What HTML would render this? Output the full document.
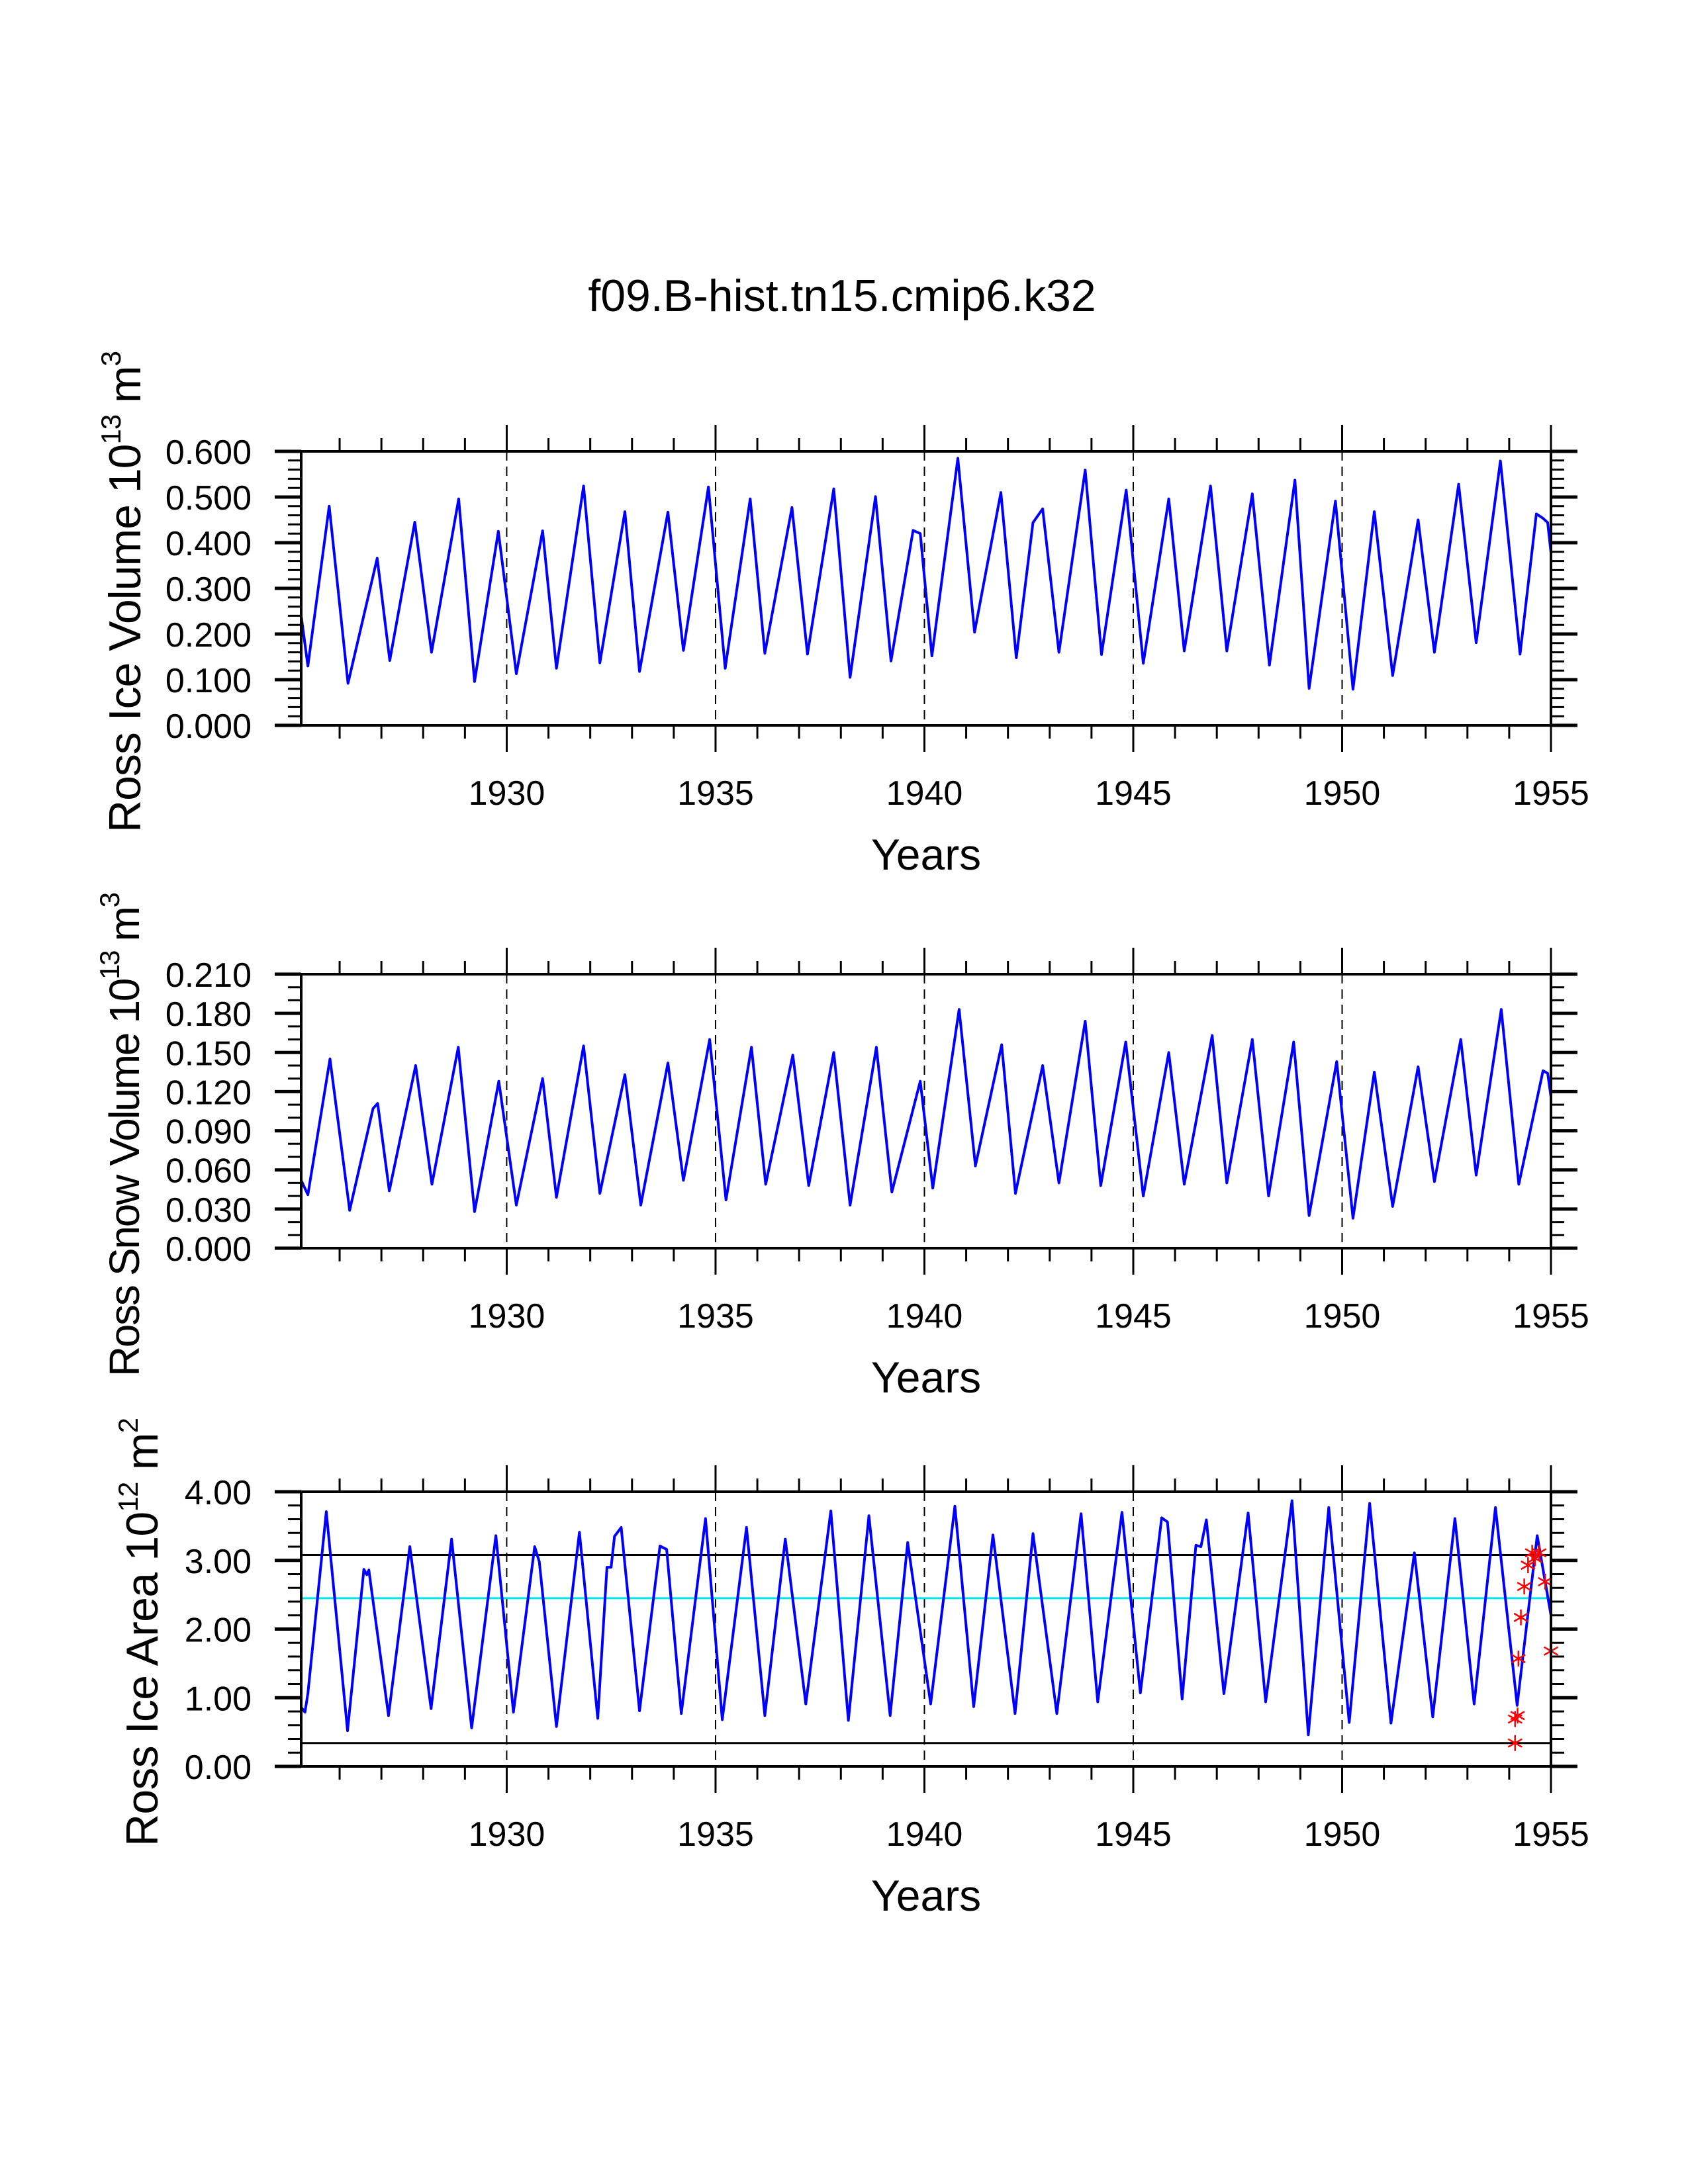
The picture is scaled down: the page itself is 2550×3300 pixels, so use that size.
<!DOCTYPE html>
<html><head><meta charset="utf-8"><style>
html,body{margin:0;padding:0;background:#fff}
svg{display:block}
text{font-family:"Liberation Sans",Arial,sans-serif;fill:#000}
</style></head>
<body>
<svg id="fig" xmlns="http://www.w3.org/2000/svg" width="2550" height="3300" viewBox="0 0 2550 3300">
<rect x="0" y="0" width="2550" height="3300" fill="#fff"/>
<text x="1272" y="470" font-size="68" text-anchor="middle">f09.B-hist.tn15.cmip6.k32</text>
</svg>
<script>
// ---- data ----
const iceVolT = [1925.08,1925.24,1925.75,1926.2,1926.9,1927.2,1927.8,1928.2,1928.85,1929.23,1929.8,1930.23,1930.86,1931.19,1931.84,1932.23,1932.83,1933.18,1933.86,1934.23,1934.83,1935.23,1935.83,1936.18,1936.83,1937.2,1937.83,1938.22,1938.83,1939.2,1939.73,1939.9,1940.18,1940.8,1941.2,1941.83,1942.2,1942.6,1942.83,1943.22,1943.85,1944.24,1944.83,1945.24,1945.85,1946.22,1946.85,1947.24,1947.85,1948.26,1948.87,1949.21,1949.84,1950.26,1950.77,1951.21,1951.82,1952.21,1952.79,1953.21,1953.79,1954.26,1954.65,1954.8,1954.92,1955.0];
const iceVolV = [0.24,0.13,0.48,0.092,0.366,0.142,0.445,0.16,0.496,0.096,0.425,0.113,0.426,0.125,0.524,0.137,0.468,0.118,0.467,0.164,0.522,0.125,0.496,0.158,0.477,0.156,0.518,0.105,0.501,0.141,0.427,0.42,0.152,0.585,0.204,0.51,0.148,0.444,0.474,0.16,0.559,0.155,0.515,0.136,0.496,0.163,0.524,0.163,0.507,0.132,0.537,0.081,0.491,0.079,0.468,0.109,0.45,0.16,0.528,0.181,0.579,0.156,0.463,0.454,0.444,0.378];

const snowVolT = [1925.08,1925.24,1925.77,1926.24,1926.8,1926.91,1927.19,1927.82,1928.21,1928.84,1929.23,1929.81,1930.23,1930.86,1931.19,1931.84,1932.23,1932.83,1933.21,1933.86,1934.23,1934.86,1935.25,1935.86,1936.2,1936.85,1937.23,1937.83,1938.22,1938.85,1939.22,1939.9,1940.2,1940.83,1941.22,1941.85,1942.18,1942.83,1943.22,1943.85,1944.22,1944.82,1945.24,1945.85,1946.22,1946.89,1947.24,1947.85,1948.24,1948.84,1949.21,1949.87,1950.26,1950.77,1951.21,1951.82,1952.21,1952.84,1953.21,1953.81,1954.23,1954.81,1954.92,1955.0];
const snowVolV = [0.052,0.041,0.145,0.029,0.107,0.111,0.044,0.140,0.049,0.154,0.028,0.128,0.033,0.130,0.039,0.155,0.042,0.133,0.033,0.142,0.052,0.160,0.037,0.154,0.049,0.148,0.048,0.150,0.033,0.154,0.043,0.128,0.046,0.183,0.063,0.156,0.042,0.140,0.050,0.174,0.048,0.158,0.040,0.150,0.049,0.163,0.050,0.160,0.040,0.158,0.025,0.143,0.023,0.135,0.032,0.139,0.051,0.160,0.056,0.183,0.049,0.136,0.134,0.116];

const iceAreaT = [1925.08,1925.17,1925.24,1925.68,1926.19,1926.58,1926.65,1926.7,1927.17,1927.68,1928.19,1928.68,1929.16,1929.74,1930.16,1930.67,1930.78,1931.19,1931.74,1932.18,1932.4,1932.5,1932.58,1932.74,1933.18,1933.67,1933.83,1934.18,1934.76,1935.16,1935.74,1936.18,1936.67,1937.16,1937.76,1938.18,1938.67,1939.18,1939.6,1940.15,1940.73,1941.18,1941.64,1942.17,1942.6,1943.17,1943.75,1944.15,1944.73,1945.17,1945.68,1945.82,1946.17,1946.5,1946.62,1946.75,1947.17,1947.75,1948.17,1948.8,1949.19,1949.68,1950.17,1950.66,1951.17,1951.73,1952.17,1952.7,1953.16,1953.67,1954.19,1954.67,1955.0];
const iceAreaV = [0.86,0.79,1.06,3.71,0.52,2.87,2.79,2.86,0.74,3.2,0.84,3.31,0.56,3.36,0.79,3.2,2.98,0.58,3.41,0.7,2.9,2.9,3.35,3.48,0.81,3.21,3.16,0.77,3.61,0.68,3.48,0.74,3.31,0.91,3.72,0.67,3.65,0.74,3.26,0.91,3.79,0.87,3.37,0.77,3.39,0.77,3.68,0.94,3.7,1.07,3.62,3.56,0.98,3.22,3.2,3.59,1.06,3.69,0.94,3.87,0.46,3.77,0.64,3.83,0.63,3.11,0.72,3.61,0.91,3.77,0.89,3.36,2.2];

const markerT = [1954.14,1954.14,1954.2,1954.22,1954.28,1954.36,1954.45,1954.55,1954.62,1954.72,1954.86,1955.0];
const markerV = [0.34,0.69,0.74,1.57,2.17,2.62,2.93,3.11,3.03,3.11,2.69,1.68];

const refLineV = [3.08, 0.34];
const meanLineV = [2.45];

const yearTicks = [1930,1935,1940,1945,1950,1955];
const iceVolTicks = [0,0.1,0.2,0.3,0.4,0.5,0.6];
const snowVolTicks = [0,0.03,0.06,0.09,0.12,0.15,0.18,0.21];
const iceAreaTicks = [0,1,2,3,4];

// ---- layout ----
const NS = "http://www.w3.org/2000/svg";
const svg = document.getElementById('fig');
const X0 = 455, X1 = 2343, TMIN = 1925.08, TMAX = 1955;
function xs(t){ return X0 + (t - TMIN) / (TMAX - TMIN) * (X1 - X0); }
function mk(tag, attrs, parent){
  const e = document.createElementNS(NS, tag);
  for (const k in attrs) e.setAttribute(k, attrs[k]);
  (parent || svg).appendChild(e);
  return e;
}

function panel(p){
  const g = mk('g', {});
  
  
  const ys = v => p.yb - (v - p.ymin) / (p.ymax - p.ymin) * (p.yb - p.yt);

  for (let i = 0; i < yearTicks.length - 1; i++){
    const x = xs(yearTicks[i]);
    const l = mk('line', {x1:x, x2:x, y1:p.yt, y2:p.yb, stroke:'#000', 'stroke-width':2, 'stroke-dasharray':'14 9'}, g);
    
    
  }
  (p.hlines || []).forEach(h => {
    const y = ys(h.v);
    const l = mk('line', {x1:X0, x2:X1, y1:y, y2:y, stroke:h.c, 'stroke-width':3}, g);
    
    
  });
  let d = '';
  p.t.forEach((t, i) => { d += (i ? 'L' : 'M') + xs(t).toFixed(1) + ' ' + ys(p.v[i]).toFixed(1); });
  const path = mk('path', {d:d, fill:'none', stroke:'#0000ff', 'stroke-width':4, 'stroke-linejoin':'round'}, g);
  
  
  if (p.mt){
    p.mt.forEach((t, i) => {
      const cx = xs(t), cy = ys(p.mv[i]), r = 12;
      const m = mk('g', {stroke:'#ff0000', 'stroke-width':2.5}, g);
      
      
      mk('line', {x1:cx, x2:cx, y1:cy-r, y2:cy+r}, m);
      mk('line', {x1:cx-r*0.87, x2:cx+r*0.87, y1:cy-r*0.5, y2:cy+r*0.5}, m);
      mk('line', {x1:cx-r*0.87, x2:cx+r*0.87, y1:cy+r*0.5, y2:cy-r*0.5}, m);
    });
  }
  const fr = mk('rect', {x:X0, y:p.yt, width:X1-X0, height:p.yb-p.yt, fill:'none', stroke:'#000', 'stroke-width':4}, g);
  
  
  for (let yr = 1926; yr <= 1955; yr++){
    const x = xs(yr), major = yr % 5 === 0, L = major ? 40 : 20;
    mk('line', {x1:x, x2:x, y1:p.yt, y2:p.yt-L, stroke:'#000', 'stroke-width':3}, g);
    mk('line', {x1:x, x2:x, y1:p.yb, y2:p.yb+L, stroke:'#000', 'stroke-width':3}, g);
  }
  yearTicks.forEach(yr => {
    const t = mk('text', {x:xs(yr), y:p.yb+120, 'font-size':52, 'text-anchor':'middle'}, g);
    t.textContent = yr;
    
    
  });
  for (let v = p.ymin; v <= p.ymax + 1e-9; v += p.minor){
    const y = ys(v);
    mk('line', {x1:X0, x2:X0-20, y1:y, y2:y, stroke:'#000', 'stroke-width':3}, g);
    mk('line', {x1:X1, x2:X1+20, y1:y, y2:y, stroke:'#000', 'stroke-width':3}, g);
  }
  p.ticks.forEach(v => {
    const y = ys(v);
    mk('line', {x1:X0, x2:X0-40, y1:y, y2:y, stroke:'#000', 'stroke-width':5}, g);
    mk('line', {x1:X1, x2:X1+40, y1:y, y2:y, stroke:'#000', 'stroke-width':5}, g);
    const t = mk('text', {x:380, y:y+19, 'font-size':52, 'text-anchor':'end'}, g);
    t.textContent = v.toFixed(p.dec);
    
    
  });
  const xt = mk('text', {x:(X0+X1)/2, y:p.yb+218, 'font-size':66, 'text-anchor':'middle'}, g);
  xt.textContent = 'Years';
  
  
  // y-axis title: start anchored, bottom at p.bot, length p.tl
  const yt = mk('text', {transform:'translate(' + p.tx + ',' + p.bot + ') rotate(-90)', 'font-size':p.fs, 'text-anchor':'start', textLength:p.tl, lengthAdjust:'spacing'}, g);
  
  
  const a = mk('tspan', {}, yt); a.textContent = p.title + ' 10';
  const b = mk('tspan', {dy:-30, 'font-size':42}, yt); b.textContent = p.exp;
  const c = mk('tspan', {dy:30}, yt); c.textContent = ' m';
  const e = mk('tspan', {dy:-30, 'font-size':42}, yt); e.textContent = p.unit;
}

panel({name:'ice-volume-panel', yt:682, yb:1096, ymin:0, ymax:0.6, minor:0.02, ticks:iceVolTicks, dec:3,
  t:iceVolT, v:iceVolV, title:'Ross Ice Volume', exp:'13', unit:'3', tx:212, bot:1258, tl:728, fs:68});
panel({name:'snow-volume-panel', yt:1472, yb:1886, ymin:0, ymax:0.21, minor:0.01, ticks:snowVolTicks, dec:3,
  t:snowVolT, v:snowVolV, title:'Ross Snow Volume', exp:'13', unit:'3', tx:210, bot:2080, tl:732, fs:64});
panel({name:'ice-area-panel', yt:2254, yb:2669, ymin:0, ymax:4, minor:0.2, ticks:iceAreaTicks, dec:2,
  t:iceAreaT, v:iceAreaV, mt:markerT, mv:markerV, title:'Ross Ice Area', exp:'12', unit:'2', tx:238, bot:2790, tl:648, fs:68,
  hlines:[{v:refLineV[0], c:'#000', n:'upper-reference-line'},{v:meanLineV[0], c:'#00e5ee', n:'mean-line'},{v:refLineV[1], c:'#000', n:'lower-reference-line'}]});
</script>
</body></html>
